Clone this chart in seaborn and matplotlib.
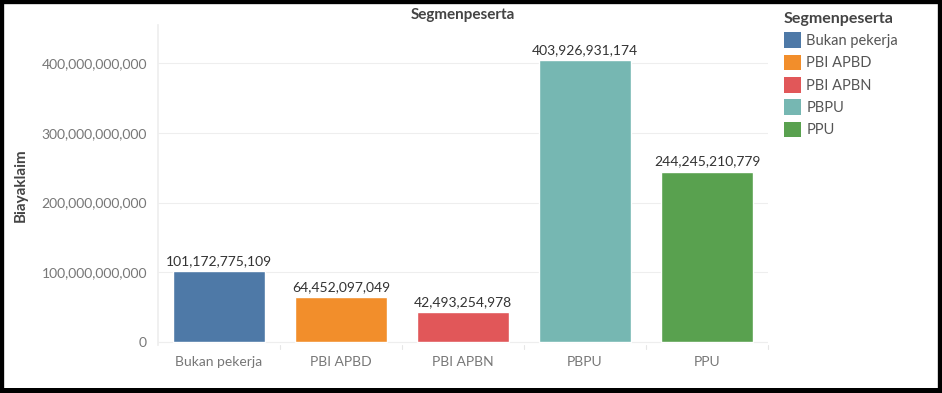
import matplotlib
matplotlib.use("Agg")
import matplotlib.pyplot as plt
import seaborn as sns
from matplotlib.patches import Patch, Rectangle
from matplotlib.ticker import FuncFormatter

sns.set_theme(style="white")
plt.rcParams['font.family'] = ['Lato', 'DejaVu Sans']

# Data
segmen = ["Bukan pekerja", "PBI APBD", "PBI APBN", "PBPU", "PPU"]
biaya_klaim = [101172775109, 64452097049, 42493254978, 403926931174, 244245210779]
warna = ["#4E79A7", "#F28E2B", "#E15759", "#76B7B2", "#59A14F"]

fig = plt.figure(figsize=(9.42, 3.93), dpi=100)
ax = fig.add_axes([158 / 942, (393 - 345) / 393, 610 / 942, 320 / 393])

sns.barplot(x=segmen, y=biaya_klaim, hue=segmen, palette=warna, width=0.75,
            legend=False, ax=ax, saturation=1)

# y limits so that 0 and 400B sit where they do in the reference
ax.set_ylim(-4.3e9, 454.5e9)
ax.set_xlim(-0.5, 4.5)
ax.set_yticks([0, 100e9, 200e9, 300e9, 400e9])
ax.yaxis.set_major_formatter(FuncFormatter(lambda v, p: f"{v:,.0f}"))
ax.grid(True, axis='y', color='#eeeeee', linewidth=0.8)
ax.set_axisbelow(True)

for s in ['top', 'right', 'bottom']:
    ax.spines[s].set_visible(False)
ax.spines['left'].set_color('#eeeeee')
ax.axhline(0, color='#eeeeee', linewidth=0.8, zorder=0)

ax.tick_params(axis='y', labelsize=10, labelcolor='#777777', length=0, pad=8)
ax.tick_params(axis='x', labelsize=10, labelcolor='#777777', length=0, pad=8)
for b in [0.5, 1.5, 2.5, 3.5, 4.5]:
    ax.plot([b, b], [-4.3e9, -10e9], color='#e6e6e6', linewidth=0.8, clip_on=False)

ax.set_xlabel("")
ax.set_ylabel("Biayaklaim", fontsize=11, color='#444444', fontweight='bold')
ax.yaxis.set_label_coords(-0.214, 0.5)
ax.set_title("Segmenpeserta", fontsize=11, color='#444444', fontweight='bold', pad=4)

for c in ax.containers:
    ax.bar_label(c, labels=[f"{v:,.0f}" for v in c.datavalues], fontsize=10,
                 color='#333333', padding=3)

handles = [Patch(facecolor=w, edgecolor='none') for w in warna]
leg = fig.legend(handles, segmen, title="Segmenpeserta", loc='upper left',
                 bbox_to_anchor=(778 / 942, 1 - 6 / 393), frameon=False,
                 fontsize=10.5, title_fontsize=11.5, handlelength=1.15, handleheight=1.3,
                 handletextpad=0.4, labelspacing=0.44, alignment='left',
                 borderaxespad=0)
leg.get_title().set_fontweight('bold')
leg.get_title().set_color('#444444')
for t in leg.get_texts():
    t.set_color('#555555')

# black frame round the picture
fig.patches.append(Rectangle((0, 0), 1, 1, transform=fig.transFigure, fill=False,
                             edgecolor='black', linewidth=6, zorder=10))
fig.patches.append(Rectangle((0, 0), 1, 5 / 393, transform=fig.transFigure,
                             facecolor='black', edgecolor='none', zorder=10))

fig.savefig("out.png", dpi=100)
